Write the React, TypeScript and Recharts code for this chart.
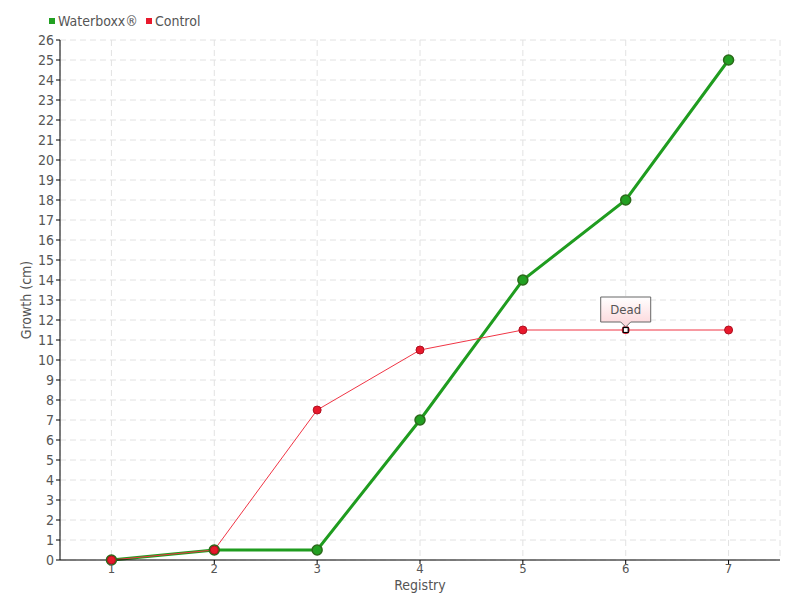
import React from 'react';
import { LineChart, Line, XAxis, YAxis, CartesianGrid } from 'recharts';

const registry = [1, 2, 3, 4, 5, 6, 7];
const waterboxx = [0, 0.5, 0.5, 7, 14, 18, 25];
const control = [0, 0.5, 7.5, 10.5, 11.5, 11.5, 11.5];
const yTicks = Array.from({ length: 27 }, (_, i) => i);
const deadIndex = 5;

const data = registry.map((r, i) => ({ r, waterboxx: waterboxx[i], control: control[i] }));

const font = '"DejaVu Sans Condensed", "Liberation Sans Narrow", sans-serif';
const textColor = '#555';

const greenDot = (props: any) => {
  const { cx, cy, index } = props;
  return <circle key={index} cx={cx} cy={cy} r={5} fill="#22a022" stroke="#2a6a1a" strokeWidth={1.5} />;
};

const redDot = (props: any) => {
  const { cx, cy, index } = props;
  if (index === deadIndex) {
    return (
      <g key={index}>
        <circle cx={cx} cy={cy} r={4} fill="#e8192c" />
        <rect x={cx - 2.5} y={cy - 2.5} width={5} height={5} fill="#fff" stroke="#000" strokeWidth={1.2} />
        <path
          d={`M${cx - 25},${cy - 33} H${cx + 25} V${cy - 8} H${cx + 5} L${cx},${cy - 3} L${cx - 5},${cy - 8} H${cx - 25} Z`}
          fill="url(#deadGrad)"
          stroke="#666"
          strokeWidth={1}
        />
        <text x={cx} y={cy - 16} textAnchor="middle" fontSize={13} fill={textColor} fontFamily={font}>
          Dead
        </text>
      </g>
    );
  }
  return <circle key={index} cx={cx} cy={cy} r={4} fill="#e8192c" stroke="#b01020" strokeWidth={1} />;
};

export default function App() {
  return (
    <div style={{ position: 'absolute', left: 0, top: 0, width: 800, height: 600, background: '#fff' }}>
      <div
        style={{
          position: 'absolute',
          top: 13,
          left: 49,
          display: 'flex',
          alignItems: 'center',
          fontFamily: font,
          fontSize: 14,
          color: textColor,
          zIndex: 1,
        }}
      >
        <span style={{ width: 6, height: 6, background: '#22a022', display: 'inline-block', marginRight: 3 }} />
        <span style={{ marginRight: 8 }}>Waterboxx®</span>
        <span style={{ width: 6, height: 6, background: '#e8192c', display: 'inline-block', marginRight: 3 }} />
        <span>Control</span>
      </div>
      <LineChart width={800} height={600} data={data} margin={{ top: 40, right: 20, bottom: 0, left: 0 }}>
        <defs>
          <linearGradient id="deadGrad" x1="0" y1="0" x2="0" y2="1">
            <stop offset="0%" stopColor="#ffffff" />
            <stop offset="100%" stopColor="#fcd4d8" />
          </linearGradient>
        </defs>
        <CartesianGrid stroke="#e2e2e2" strokeDasharray="6 4" />
        <XAxis
          dataKey="r"
          type="number"
          domain={[0.5, 7.5]}
          ticks={registry}
          height={40}
          axisLine={{ stroke: '#000' }}
          tickLine={{ stroke: '#000' }}
          tickSize={4}
          tickMargin={0}
          tick={{ fill: textColor, fontSize: 13, fontFamily: font }}
          label={{ value: 'Registry', position: 'insideBottom', offset: 10, fill: textColor, fontSize: 14, fontFamily: font }}
        />
        <YAxis
          domain={[0, 26]}
          ticks={yTicks}
          interval={0}
          width={60}
          axisLine={{ stroke: '#000' }}
          tickLine={{ stroke: '#000' }}
          tickSize={4}
          tick={{ fill: textColor, fontSize: 14, fontFamily: font }}
          label={{ value: 'Growth (cm)', angle: -90, position: 'insideLeft', offset: 26, fill: textColor, fontSize: 14, fontFamily: font, style: { textAnchor: 'middle' } }}
        />
        <Line
          dataKey="waterboxx"
          stroke="#1f9c1f"
          strokeWidth={3}
          dot={greenDot}
          activeDot={false}
          isAnimationActive={false}
        />
        <Line
          dataKey="control"
          stroke="#f03545"
          strokeWidth={1}
          dot={redDot}
          activeDot={false}
          isAnimationActive={false}
        />
      </LineChart>
    </div>
  );
}
